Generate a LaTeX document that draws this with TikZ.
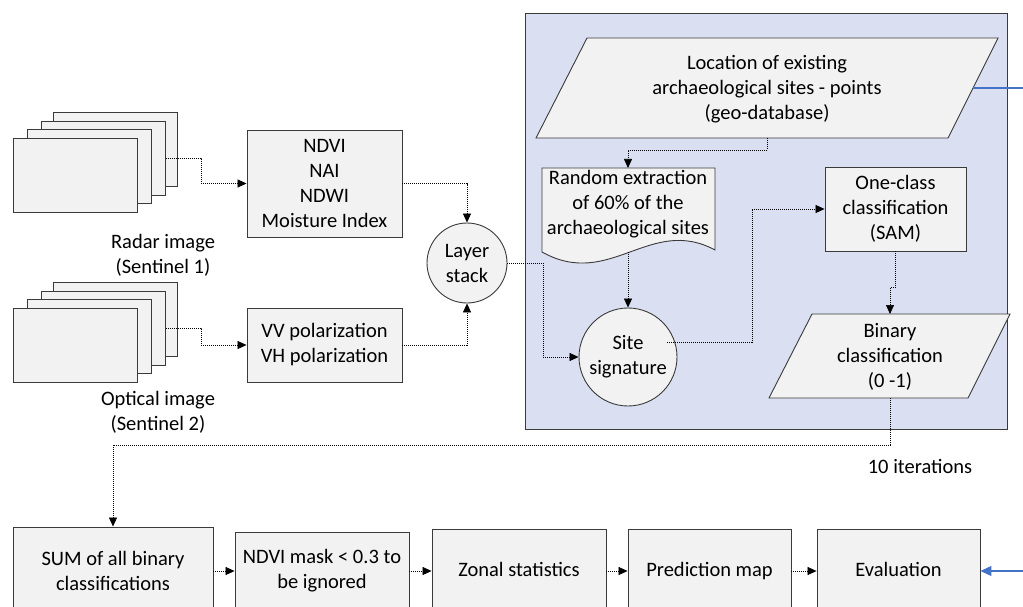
\documentclass[tikz,border=0pt]{standalone}
\usepackage{fontspec}
\setmainfont{Carlito}
\usetikzlibrary{arrows.meta,calc}
\definecolor{boxfill}{HTML}{F2F2F2}
\definecolor{boxline}{HTML}{3A3A3A}
\definecolor{panel}{HTML}{DAE0F2}
\definecolor{linkblue}{HTML}{4472C4}
\tikzset{
  x=1pt, y=-1pt,
  txtfont/.style={font=\fontsize{20.5}{25}\selectfont},
  shapeline/.style={draw=boxline, line width=0.9pt, fill=boxfill},
  procbox/.style={shapeline, rectangle, inner sep=0pt, align=center, txtfont},
  oneline/.style={text height=13pt, text depth=5pt},
  layerbox/.style={shapeline, rectangle, inner sep=0pt, minimum width=124pt, minimum height=74pt, anchor=north west},
  roundnode/.style={shapeline, circle, inner sep=0pt, align=center, txtfont},
  caption/.style={align=center, inner sep=0pt, txtfont},
  flowline/.style={line width=0.7pt, dash pattern=on 1pt off 1pt},
  flow/.style={flowline, -{Triangle[length=9pt,width=8pt]}},
  bluelink/.style={draw=linkblue, line width=1.2pt},
}
\begin{document}
\begin{tikzpicture}
\useasboundingbox (0,0) rectangle (1023,607);
\clip (0,0) rectangle (1023,607);

% analysis panel
\path[draw=boxline, line width=0.9pt, fill=panel] (525,13) rectangle (1007,429);

% radar image stack
\node[layerbox] (rad4) at (53,112) {};
\node[layerbox] (rad3) at (41,121) {};
\node[layerbox] (rad2) at (27,129) {};
\node[layerbox] (rad1) at (13,138) {};
\node[caption] (radlbl) at (163,255) {Radar image\\(Sentinel 1)};

% optical image stack
\node[layerbox] (opt4) at (53,282) {};
\node[layerbox] (opt3) at (41,291) {};
\node[layerbox] (opt2) at (27,299) {};
\node[layerbox] (opt1) at (13,308) {};
\node[caption] (optlbl) at (158,412) {Optical image\\(Sentinel 2)};

% index layers
\node[procbox, minimum width=155pt, minimum height=107pt] (ndvi) at (324.5,183.5) {NDVI\\NAI\\NDWI\\Moisture Index};
\node[procbox, minimum width=155pt, minimum height=74pt] (vv) at (324.5,345) {VV polarization\\VH polarization};
\node[roundnode, minimum size=80pt] (layer) at (467,263) {Layer\\stack};

% known sites (data shape)
\path[shapeline] (536,138) -- (587,38) -- (998,38) -- (948,138) -- cycle;
\node[caption] (loc) at (767,89) {Location of existing\\archaeological sites - points\\(geo-database)};
\coordinate (locS) at (767,138);
\coordinate (locE) at (973,88);
\coordinate (edgeA) at (1023,88);

% random extraction (document shape)
\path[shapeline] (542,168) -- (715,168) -- (715,250)
  .. controls (650,215) and (610,290) .. (542,252) -- cycle;
\node[caption] (rand) at (628,204) {Random extraction\\of 60\% of the\\archaeological sites};
\coordinate (randN) at (628,168);
\coordinate (randS) at (628,252);

\node[roundnode, minimum size=98pt] (site) at (628,357) {Site\\signature};
\node[procbox, minimum width=141pt, minimum height=84pt] (onec) at (895.5,209) {One-class\\classification\\(SAM)};

% binary classification (data shape)
\path[shapeline] (769,398) -- (812,314) -- (1010,314) -- (968,398) -- cycle;
\node[caption] (bin) at (890,357) {Binary\\classification\\(0 -1)};
\coordinate (binN) at (890,314);
\coordinate (binS) at (890,398);

\node[caption] (iter) at (920,466) {10 iterations};

% post-processing chain
\node[procbox, minimum width=200pt, minimum height=88pt] (sum) at (113,571) {SUM of all binary\\classifications};
\node[procbox, minimum width=174pt, minimum height=78pt] (mask) at (322,571) {NDVI mask < 0.3 to\\be ignored};
\node[procbox, oneline, minimum width=174pt, minimum height=87pt] (zonal) at (519,572.5) {Zonal statistics};
\node[procbox, oneline, minimum width=163pt, minimum height=87pt] (pred) at (709.5,572.5) {Prediction map};
\node[procbox, oneline, minimum width=163pt, minimum height=87pt] (eval) at (898.5,572.5) {Evaluation};
\coordinate (edgeB) at (1023,571);

% connectors
\draw[flow] (rad3.east) -- ++(35,0) |- (ndvi.west);
\draw[flow] (opt3.east) -- ++(35,0) |- (vv.west);
\draw[flow] (ndvi.east) -| (layer.north);
\draw[flow] (vv.east) -| (layer.south);
\draw[flow] (layer.east) -- ++(36,0) |- (site.west);
\draw[flow] (locS) -- ++(0,12) -| (randN);
\draw[flow] (randS) -- (site.north);
\draw[flow] ([shift={(-10pt,15pt)}]site.east) -- ++(85,0) |- (onec.west);
\draw[flow] (onec.south) -- ++(0,36) -| (binN);
\draw[flow] (binS) -- ++(0,47) -| (sum.north);
\draw[flow] (sum.east) -- (mask.west);
\draw[flow] (mask.east) -- ([yshift=1.5pt]zonal.west);
\draw[flow] ([yshift=1.5pt]zonal.east) -- ([yshift=1.5pt]pred.west);
\draw[flow] ([yshift=1.5pt]pred.east) -- ([yshift=1.5pt]eval.west);
\draw[bluelink] (locE) -- (edgeA);
\draw[bluelink, -{Triangle[length=11pt,width=10pt]}] (edgeB) -- (edgeB -| eval.east);
\end{tikzpicture}
\end{document}
